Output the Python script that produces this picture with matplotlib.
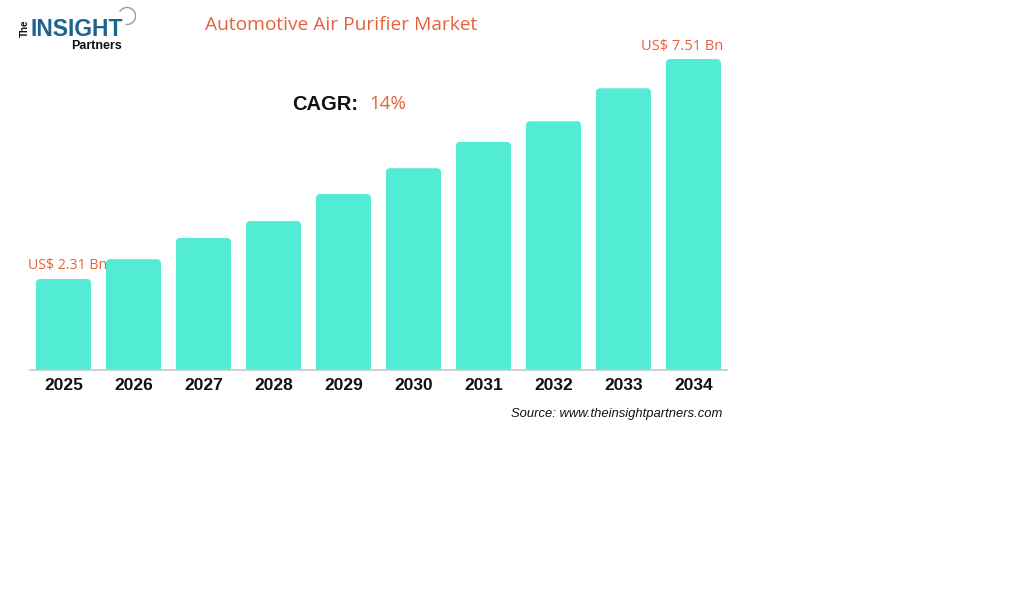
import matplotlib
matplotlib.use('Agg')
import matplotlib.pyplot as plt
from matplotlib.patches import FancyBboxPatch, Arc

years = ['2025', '2026', '2027', '2028', '2029', '2030', '2031', '2032', '2033', '2034']
market_size = [2.31, 2.78, 3.28, 3.68, 4.32, 4.93, 5.55, 6.04, 6.82, 7.51]
first_label = 'US$ 2.31 Bn'
last_label = 'US$ 7.51 Bn'
cagr_value = '14%'

W, H = 1027, 591
bar_color = '#52EBD3'
orange = '#E8603C'


def fx(px):
    return px / W


def fy(py):
    return 1 - py / H


fig = plt.figure(figsize=(W / 100, H / 100), dpi=100)
fig.patch.set_facecolor('white')

# axes placed so the baseline sits at y=370 px
ax = fig.add_axes([fx(30), fy(370), (727 - 30) / W, (370 - 30) / H])
ax.set_xlim(-0.479, 9.479)
ax.set_ylim(0.16, 0.16 + 340 / 42.3)

x = range(len(years))
bars = ax.bar(x, market_size, width=55 / 70, color=bar_color)

# swap plain bars for ones with slightly rounded tops
for b in bars:
    bx, bw, bh = b.get_x(), b.get_width(), b.get_height()
    b.set_visible(False)
    p = FancyBboxPatch((bx, -1), bw, bh + 1,
                       boxstyle='round,pad=0,rounding_size=0.06',
                       mutation_aspect=1.66, facecolor=bar_color,
                       edgecolor='none', clip_on=True)
    ax.add_patch(p)

for s in ['top', 'right', 'left']:
    ax.spines[s].set_visible(False)
ax.spines['bottom'].set_color('#C8C8C8')
ax.spines['bottom'].set_linewidth(1.2)
ax.set_yticks([])
ax.set_xticks(list(x))
ax.set_xticklabels(years, fontsize=12.5, fontweight='bold',
                   family='Liberation Sans', color='#111111')
ax.tick_params(axis='x', length=0, pad=6)

# value labels on first and last bar
ax.annotate(first_label, (0, market_size[0]), xytext=(3, 4),
            textcoords='offset points', ha='center', va='bottom',
            fontsize=10.2, color=orange, family='Open Sans')
ax.annotate(last_label, (9, market_size[-1]), xytext=(-8, 4),
            textcoords='offset points', ha='center', va='bottom',
            fontsize=10.5, color=orange, family='Open Sans')

# title and CAGR
fig.text(fx(205), fy(25), 'Automotive Air Purifier Market', fontsize=13.8,
         color=orange, family='Open Sans', va='center', ha='left')
fig.text(fx(292), fy(104), 'CAGR:', fontsize=14.5, fontweight='bold',
         family='Liberation Sans', color='#111111', va='center', ha='left')
fig.text(fx(369), fy(104), cagr_value, fontsize=13.5, color=orange,
         family='Open Sans', va='center', ha='left')

# source
fig.text(fx(722), fy(414), 'Source: www.theinsightpartners.com', fontsize=9.4,
         style='italic', family='Liberation Sans', color='#111111',
         va='center', ha='right')

# logo
fig.text(fx(30), fy(36), 'INSIGHT', fontsize=16.5, fontweight='bold',
         family='Liberation Sans', color='#1C6390', va='baseline', ha='left')
fig.text(fx(25), fy(28), 'The', fontsize=7, fontweight='bold', rotation=90,
         family='Liberation Sans', color='#111111', va='center', ha='center')
fig.text(fx(122), fy(49), 'Partners', fontsize=9, fontweight='bold',
         family='Liberation Sans', color='#111111', va='baseline', ha='right')
logo_ax = fig.add_axes([0, 0, 1, 1], facecolor='none')
logo_ax.set_xlim(0, W)
logo_ax.set_ylim(H, 0)
logo_ax.axis('off')
logo_ax.add_patch(Arc((127, 16), 17, 17, theta1=-150, theta2=100,
                      color='#9A9A9A', lw=1))

fig.savefig('out.png', dpi=100, facecolor='white')
